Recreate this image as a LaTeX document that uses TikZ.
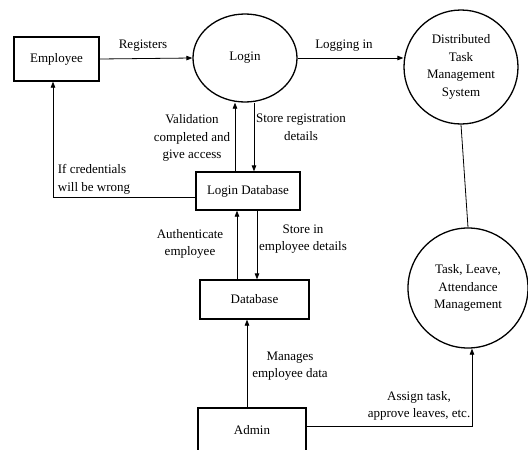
\documentclass[tikz,border=0pt]{standalone}
\usepackage{fontspec}
\setmainfont{Liberation Serif}
\usetikzlibrary{arrows.meta,shapes.geometric}
\begin{document}
\begin{tikzpicture}[x=1pt, y=-1pt, font=\fontsize{13}{17.7}\selectfont,
    box/.style={rectangle,draw,line width=1.3pt,inner sep=0pt},
    proc/.style={circle,draw,line width=1.3pt,align=center,inner sep=0pt},
    flow/.style={line width=0.8pt,-{Triangle[length=6pt,width=4.5pt]}},
    lbl/.style={align=center,inner sep=0pt}]
            \useasboundingbox (0,0) rectangle (528,450);
            \node[box, minimum width=85pt, minimum height=44pt] (emp) at (56.5,59) {Employee};
            \node[ellipse, draw, line width=1.3pt, minimum width=104pt, minimum height=88pt] (login) at (245,58) {Login};
            \node[proc, minimum size=114pt] (dtms) at (461,67) {Distributed\\Task\\Management\\System};
            \node[box, minimum width=104pt, minimum height=38pt] (logindb) at (248,191) {Login Database};
            \node[box, minimum width=109pt, minimum height=39pt] (db) at (254.5,299.5) {Database};
            \node[box, minimum width=108pt, minimum height=44pt] (admin) at (252,430) {Admin};
            \node[proc, minimum size=120pt] (tlam) at (468,288) {Task, Leave,\\Attendance\\Management};

            \draw[flow] (emp.east) -- (login.west);
            \draw[flow] (login.east) -- (login.east -| dtms.west);
            \draw[flow] ([xshift=-13pt]logindb.north) -- ([xshift=-10pt]login.south);
            \draw[flow] ([xshift=9pt]login.south) -- ([xshift=6pt]logindb.north);
            \draw[flow] ([yshift=-6pt]logindb.west) -| ([xshift=-3.5pt]emp.south);
            \draw[flow] ([xshift=-17.5pt]db.north) -- ([xshift=-11pt]logindb.south);
            \draw[flow] ([xshift=9pt]logindb.south) -- ([xshift=2.5pt]db.north);
            \draw[flow] ([xshift=-5pt]admin.north) -- ([xshift=-7.5pt]db.south);
            \draw[flow] ([yshift=4pt]admin.east) -| ([xshift=4pt]tlam.south);
            \draw[line width=0.8pt] (dtms.south) -- (tlam.north);

            \node[lbl] (l0) at (143,46) {Registers};
            \node[lbl] (l1) at (344,46) {Logging in};
            \node[lbl] (l2) at (192,138) {Validation\\completed and\\give access};
            \node[lbl] (l3) at (301,127) {Store registration\\details};
            \node[lbl, align=left] (l4) at (94,179) {If credentials\\will be wrong};
            \node[lbl] (l5) at (190,244) {Authenticate\\employee};
            \node[lbl] (l6) at (303,239) {Store in\\employee details};
            \node[lbl] (l7) at (290,366) {Manages\\employee data};
            \node[lbl] (l8) at (419,406) {Assign task,\\approve leaves, etc.};
        \end{tikzpicture}
\end{document}
